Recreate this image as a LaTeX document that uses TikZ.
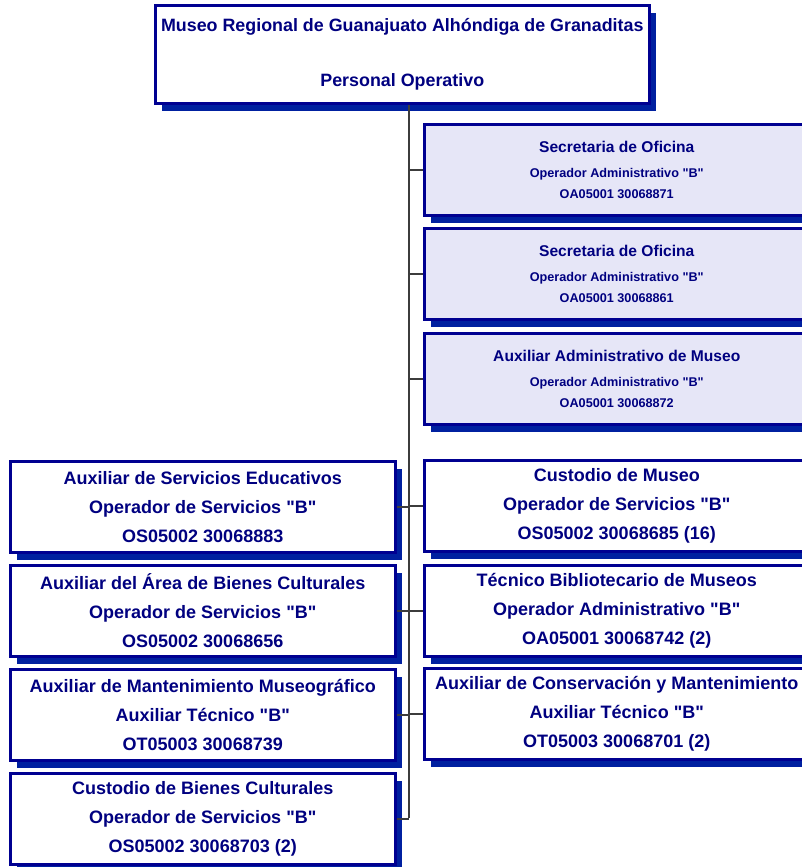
\documentclass[tikz,border=0pt]{standalone}
\usepackage{fontspec}
\setmainfont{Liberation Sans}
\usepackage{xcolor}
\usepackage{tikz}
\usetikzlibrary{positioning,shadows}

\definecolor{navytxt}{RGB}{0,0,128}
\definecolor{boxline}{RGB}{0,0,145}
\definecolor{shadowblue}{RGB}{0,32,160}
\definecolor{lavender}{RGB}{230,230,247}
\definecolor{linkgray}{RGB}{60,60,60}

\newcommand{\qB}{\textquotedbl B\textquotedbl}

\tikzset{
  puesto/.style={draw=boxline,line width=1.9pt,fill=white,anchor=north west,
    inner sep=0pt,align=center,text=navytxt,
    minimum width=288.75pt,minimum height=68.25pt,
    font=\bfseries\fontsize{13.5}{21.75}\selectfont,
    drop shadow={shadow xshift=5.25pt,shadow yshift=-6pt,fill=shadowblue,opacity=1}},
  oficina/.style={puesto,fill=lavender,font=\bfseries\fontsize{9.5}{15.75}\selectfont},
  liga/.style={draw=linkgray,line width=1.1pt}
}

\begin{document}
\begin{tikzpicture}[x=0.75pt,y=-0.75pt]
  \useasboundingbox (0,0) rectangle (802,867);
  \clip (0,0) rectangle (802,867);

  % titulo
  \node[puesto,minimum width=370.5pt,minimum height=73.5pt,
        font=\bfseries\fontsize{13.4}{41.25}\selectfont] (museo) at (154,4)
        {Museo Regional de Guanajuato Alhóndiga de Granaditas\\Personal Operativo};

  % columna derecha, oficinas
  \node[oficina] (sec1) at (423,123) {{\fontsize{11.7}{15.75}\selectfont Secretaria de Oficina}\\[3pt]Operador Administrativo \qB\\OA05001 30068871};
  \node[oficina] (sec2) at (423,227) {{\fontsize{11.7}{15.75}\selectfont Secretaria de Oficina}\\[3pt]Operador Administrativo \qB\\OA05001 30068861};
  \node[oficina] (auxadm) at (423,332) {{\fontsize{11.7}{15.75}\selectfont Auxiliar Administrativo de Museo}\\[3pt]Operador Administrativo \qB\\OA05001 30068872};

  % columna derecha
  \node[puesto] (cusmus) at (423,459) {Custodio de Museo\\Operador de Servicios \qB\\OS05002 30068685 (16)};
  \node[puesto] (biblio) at (423,564) {Técnico Bibliotecario de Museos\\Operador Administrativo \qB\\OA05001 30068742 (2)};
  \node[puesto] (conserv) at (423,667) {Auxiliar de Conservación y Mantenimiento\\Auxiliar Técnico \qB\\OT05003 30068701 (2)};

  % columna izquierda
  \node[puesto] (educ) at (9,460) {Auxiliar de Servicios Educativos\\Operador de Servicios \qB\\OS05002 30068883};
  \node[puesto] (bienes) at (9,564) {Auxiliar del Área de Bienes Culturales\\Operador de Servicios \qB\\OS05002 30068656};
  \node[puesto] (mantto) at (9,668) {Auxiliar de Mantenimiento Museográfico\\Auxiliar Técnico \qB\\OT05003 30068739};
  \node[puesto] (cusbc) at (9,772) {Custodio de Bienes Culturales\\Operador de Servicios \qB\\OS05002 30068703 (2)};

  % lineas
  \coordinate (tronco) at (409,818);
  \draw[liga] (museo.south -| tronco) -- (tronco);
  \draw[liga] (sec1.west) -- (sec1.west -| tronco);
  \draw[liga] (sec2.west) -- (sec2.west -| tronco);
  \draw[liga] (auxadm.west) -- (auxadm.west -| tronco);
  \draw[liga] (cusmus.west) -- (cusmus.west -| tronco);
  \draw[liga] (biblio.west) -- (biblio.west -| tronco);
  \draw[liga] (conserv.west) -- (conserv.west -| tronco);
  \draw[liga] (educ.east) -- (educ.east -| tronco);
  \draw[liga] (bienes.east) -- (bienes.east -| tronco);
  \draw[liga] (mantto.east) -- (mantto.east -| tronco);
  \draw[liga] (cusbc.east) -- (cusbc.east -| tronco);
\end{tikzpicture}
\end{document}
